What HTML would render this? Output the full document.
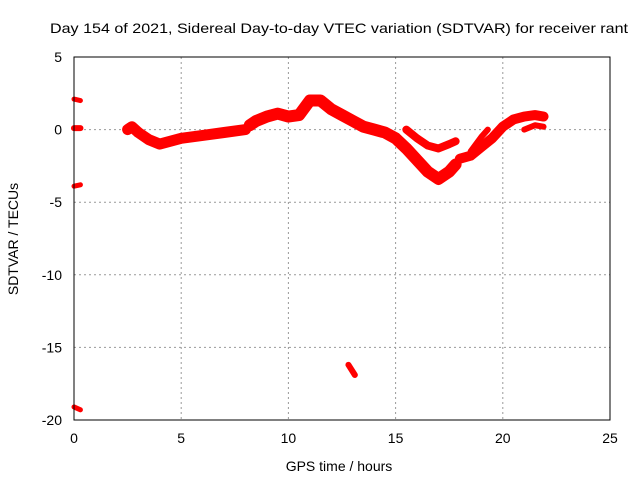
<!DOCTYPE html>
<html><head><meta charset="utf-8"><style>
body{margin:0;background:#fff;}
svg{display:block;font-family:"Liberation Sans",sans-serif;}
</style></head><body>
<svg id="chart" width="640" height="480" viewBox="0 0 640 480">
<rect width="640" height="480" fill="#fff"/>
<text x="339" y="33" font-size="14" text-anchor="middle" textLength="578" lengthAdjust="spacingAndGlyphs">Day 154 of 2021, Sidereal Day-to-day VTEC variation (SDTVAR) for receiver rant</text>
<g id="grid"></g>
<g id="series"></g>
<rect x="74" y="57" width="536" height="363" fill="none" stroke="#000" stroke-width="1"/>
<g id="ticks"></g>
<text x="339" y="471" font-size="14" text-anchor="middle">GPS time / hours</text>
<text transform="translate(18,239) rotate(-90)" font-size="14" text-anchor="middle">SDTVAR / TECUs</text>
</svg>
<script>
const xTicks=[0,5,10,15,20,25];
const yTicks=[5,0,-5,-10,-15,-20];
const segMain1=[[2.5,0],[2.7,0.2],[3,-0.2],[3.5,-0.7],[4,-1.0],[4.5,-0.8],[5,-0.6],[6,-0.4],[7,-0.2],[8,0]];
const segMain2=[[8.2,0.3],[8.5,0.6],[9,0.9],[9.5,1.1],[10,0.9],[10.5,1.0],[11,2.0],[11.5,2.0],[12,1.4],[12.5,1.0],[13,0.6],[13.5,0.2],[14,0],[14.5,-0.2],[15,-0.6],[15.5,-1.3],[16,-2.1],[16.5,-2.9],[17,-3.4],[17.5,-2.9],[17.8,-2.4]];
const segUpper=[[15.5,0],[16,-0.6],[16.5,-1.1],[17,-1.3],[17.5,-1.0],[17.8,-0.8]];
const segRise=[[18,-2.0],[18.5,-1.8],[19,-1.2],[19.5,-0.6],[20,0.2],[20.5,0.7],[21,0.9],[21.5,1.0],[21.9,0.9]];
const segRise2=[[18.5,-1.5],[19,-0.5],[19.3,0]];
const segTail=[[21,0],[21.5,0.3],[21.9,0.2]];
const segS1=[[0,2.1],[0.3,2.0]];
const segS2=[[0,0.1],[0.3,0.1]];
const segS3=[[0,-3.9],[0.3,-3.8]];
const segS4=[[0,-19.1],[0.3,-19.3]];
const segS5=[[12.8,-16.2],[13.1,-16.9]];
const X=v=>74+v*(536/25);
const Y=v=>57+(5-v)*(363/25);
const NS="http://www.w3.org/2000/svg";
const grid=document.getElementById('grid'),ticks=document.getElementById('ticks'),ser=document.getElementById('series');
function mk(t,a,p){const e=document.createElementNS(NS,t);for(const k in a)e.setAttribute(k,a[k]);p.appendChild(e);return e;}
xTicks.forEach(v=>{
 if(v>0&&v<25){const g=mk('line',{x1:X(v),x2:X(v),y1:57,y2:420,stroke:'#999','stroke-dasharray':'2,3'},grid);
 
 }
 const t=mk('text',{x:X(v),y:443,'font-size':14,'text-anchor':'middle'},ticks);t.textContent=v;
 
 
});
yTicks.forEach(v=>{
 if(v<5&&v>-20){const g=mk('line',{x1:74,x2:610,y1:Y(v),y2:Y(v),stroke:'#999','stroke-dasharray':'2,3'},grid);
 
 }
 const t=mk('text',{x:62,y:Y(v)+5,'font-size':14,'text-anchor':'end'},ticks);t.textContent=v;
 
 
});
[[segMain1,11],[segMain2,12],[segUpper,8],[segRise,10],[segRise2,6],[segTail,6],[segS1,5],[segS2,6],[segS3,5],[segS4,5],[segS5,6]].forEach(([s,w])=>{
 const p=mk('polyline',{points:s.map(d=>X(d[0])+','+Y(d[1])).join(' '),fill:'none',stroke:'#f00','stroke-width':w,'stroke-linecap':'round','stroke-linejoin':'round'},ser);
 
 
});
</script>
</body></html>
